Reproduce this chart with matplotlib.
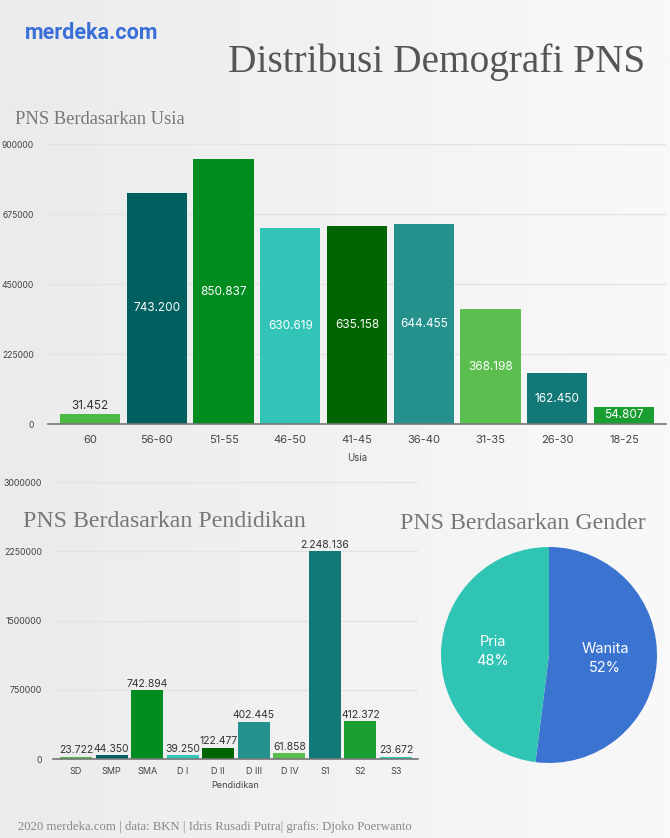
import numpy as np
import matplotlib
matplotlib.use("Agg")
import matplotlib.pyplot as plt

# data
usia_labels = ['60', '56-60', '51-55', '46-50', '41-45', '36-40', '31-35', '26-30', '18-25']
usia_values = [31452, 743200, 850837, 630619, 635158, 644455, 368198, 162450, 54807]

pend_labels = ['SD', 'SMP', 'SMA', 'D I', 'D II', 'D III', 'D IV', 'S1', 'S2', 'S3']
pend_values = [23722, 44350, 742894, 39250, 122477, 402445, 61858, 2248136, 412372, 23672]

gender_labels = ['Wanita', 'Pria']
gender_values = [52, 48]

palette = ['#4cb944', '#006060', '#008c1e', '#33c4b8', '#006400',
           '#24918c', '#5bbf50', '#127878', '#1a9e32', '#33c4b8']
pie_colors = ['#3b73d1', '#30c4b5']

W, H = 670, 838
sans = ['Inter', 'DejaVu Sans']
serif = ['Liberation Serif', 'DejaVu Serif']


def fmt(v):
    return f"{v:,}".replace(',', '.')


def px_axes(fig, x0, y0, x1, y1):
    # pixel box (top-left origin) -> axes
    return fig.add_axes([x0 / W, 1 - y1 / H, (x1 - x0) / W, (y1 - y0) / H])


fig = plt.figure(figsize=(6.7, 8.38), dpi=100)

# background gradient
bg = fig.add_axes([0, 0, 1, 1], zorder=-10)
grad = np.linspace(0, 1, 256).reshape(1, -1)
bg.imshow(grad, aspect='auto', extent=[0, 1, 0, 1],
          cmap=matplotlib.colors.LinearSegmentedColormap.from_list('g', ['#ebebeb', '#f9f9f9']))
bg.axis('off')

fig.text(25 / W, 1 - 39 / H, 'merdeka.com', color='#3b6fd8', fontsize=15.5, fontweight='bold',
         family=['Liberation Sans Narrow', 'DejaVu Sans Condensed', 'Roboto', 'DejaVu Sans'],
         va='baseline')
fig.text(645 / W, 1 - 72 / H, 'Distribusi Demografi PNS', color='#555555', fontsize=28.3,
         family=serif, ha='right', va='baseline')
fig.text(15 / W, 1 - 124 / H, 'PNS Berdasarkan Usia', color='#777777', fontsize=13.3,
         family=serif, va='baseline')
fig.text(23 / W, 1 - 527 / H, 'PNS Berdasarkan Pendidikan', color='#777777', fontsize=17.2,
         family=serif, va='baseline')
fig.text(400 / W, 1 - 529 / H, 'PNS Berdasarkan Gender', color='#777777', fontsize=17.2,
         family=serif, va='baseline')
fig.text(18 / W, 1 - 830 / H, '2020 merdeka.com | data: BKN | Idris Rusadi Putra| grafis: Djoko Poerwanto',
         color='#888888', fontsize=9.2, family=serif, va='baseline')


def style_bar_axes(ax, ylabel_size):
    ax.set_facecolor('none')
    for s in ['top', 'right', 'left']:
        ax.spines[s].set_visible(False)
    ax.spines['bottom'].set_color('#777777')
    ax.spines['bottom'].set_linewidth(1.2)
    ax.grid(axis='y', color='#e3e3e3', linewidth=1)
    ax.set_axisbelow(True)
    ax.tick_params(axis='both', length=0, colors='#444444')
    ax.tick_params(axis='y', labelsize=ylabel_size, pad=10)
    for t in ax.get_yticklabels() + ax.get_xticklabels():
        t.set_family(sans)


# usia chart
ax1 = px_axes(fig, 48, 144, 666, 424)
x1 = np.arange(len(usia_values))
ax1.bar(x1, usia_values, width=0.9, color=palette[:len(usia_values)])
ax1.set_xlim(-0.63, len(usia_values) - 1 + 0.63)
ax1.set_ylim(0, 900000)
ax1.set_yticks([0, 225000, 450000, 675000, 900000])
ax1.set_yticklabels(['0', '225000', '450000', '675000', '900000'])
ax1.set_xticks(x1)
ax1.set_xticklabels(usia_labels, fontsize=8)
ax1.tick_params(axis='x', pad=8)
ax1.set_xlabel('Usia', fontsize=7, family=sans, color='#444444', labelpad=6)
style_bar_axes(ax1, 6.2)
for xi, v in zip(x1, usia_values):
    if v < 40000:
        ax1.text(xi, v + 8000, fmt(v), ha='center', va='bottom', fontsize=8.5,
                 color='#333333', family=sans)
    else:
        ax1.text(xi, v / 2, fmt(v), ha='center', va='center', fontsize=8.5,
                 color='white', family=sans)

# pendidikan chart
ax2 = px_axes(fig, 53, 482, 418, 759)
x2 = np.arange(len(pend_values))
ax2.bar(x2, pend_values, width=0.9, color=palette[:len(pend_values)])
ax2.set_xlim(-0.65, len(pend_values) - 1 + 0.62)
ax2.set_ylim(0, 3000000)
ax2.set_yticks([0, 750000, 1500000, 2250000, 3000000])
ax2.set_yticklabels(['0', '750000', '1500000', '2250000', '3000000'])
ax2.set_xticks(x2)
ax2.set_xticklabels(pend_labels, fontsize=6.5)
ax2.tick_params(axis='x', pad=6)
ax2.set_xlabel('Pendidikan', fontsize=6.5, family=sans, color='#444444', labelpad=3)
style_bar_axes(ax2, 6.3)
ax2.tick_params(axis='y', pad=8)
for xi, v in zip(x2, pend_values):
    ax2.text(xi, v + 15000, fmt(v), ha='center', va='bottom', fontsize=7.5,
             color='#333333', family=sans)

# gender pie
ax3 = px_axes(fig, 549 - 110, 655 - 110, 549 + 110, 655 + 110)
ax3.pie(gender_values, colors=pie_colors, startangle=90, counterclock=False,
        labels=[f"{l}\n{v}%" for l, v in zip(gender_labels, gender_values)],
        labeldistance=0.52, radius=108 / 110,
        textprops=dict(color='white', fontsize=10.5, family=sans, ha='center', va='center',
                       linespacing=1.5))
ax3.set_xlim(-1, 1)
ax3.set_ylim(-1, 1)
ax3.set_aspect('equal')

fig.savefig('out.png', dpi=100)
